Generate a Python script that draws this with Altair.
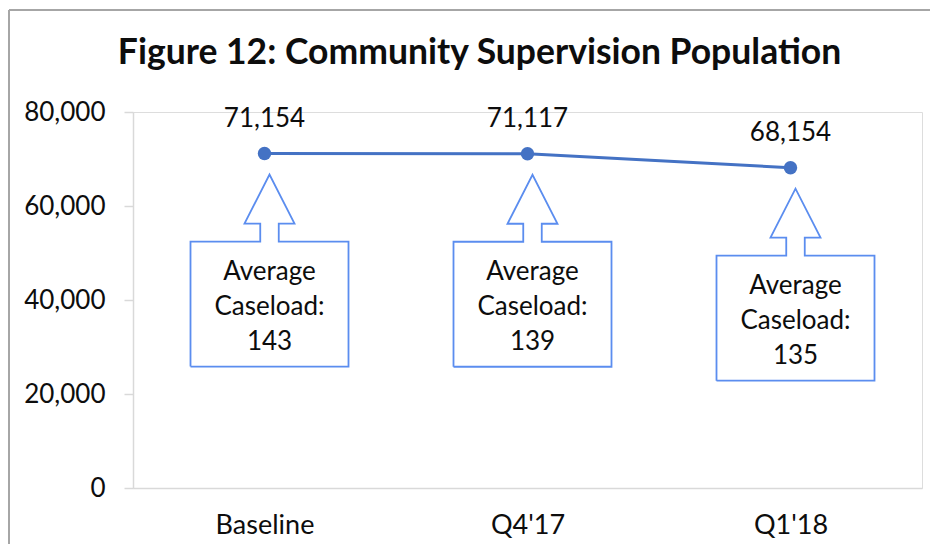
import json
import altair as alt
import pandas as pd

# ---------------- data ----------------
categories = ["Baseline", "Q4'17", "Q1'18"]
population = [71154, 71117, 68154]
caseload = [143, 139, 135]
y_ticks = [0, 20000, 40000, 60000, 80000]
TITLE = "Figure 12: Community Supervision Population"

# ---------------- layout / style ----------------
PLOT_W, PLOT_H = 789, 376
Y_MAX = 80000
PX_X = PLOT_W / len(categories)      # pixels per category step
U_Y = Y_MAX / PLOT_H                 # data units per pixel (y)

LINE_COLOR = "#4472C4"
CALLOUT_COLOR = "#5B8DEF"
AXIS_COLOR = "#D9D9D9"
TEXT_COLOR = "#0d0d0d"
FONT = "Lato"

# callout geometry in pixels (relative to its data point)
GAP, HEAD_H, SHAFT_H, BOX_H = 21, 49, 18, 125
BOX_W, HEAD_W, SHAFT_W, X_SHIFT = 158, 50, 18.5, 5
TEXT_DY, LINE_H = 38.3, 35

idx = list(range(len(categories)))
df = pd.DataFrame({"x": idx, "y": population, "cat": categories})

outline = [
    (-BOX_W / 2, HEAD_H + SHAFT_H + BOX_H),
    (-BOX_W / 2, HEAD_H + SHAFT_H),
    (-SHAFT_W / 2, HEAD_H + SHAFT_H),
    (-SHAFT_W / 2, HEAD_H),
    (-HEAD_W / 2, HEAD_H),
    (0, 0),
    (HEAD_W / 2, HEAD_H),
    (SHAFT_W / 2, HEAD_H),
    (SHAFT_W / 2, HEAD_H + SHAFT_H),
    (BOX_W / 2, HEAD_H + SHAFT_H),
    (BOX_W / 2, HEAD_H + SHAFT_H + BOX_H),
    (-BOX_W / 2, HEAD_H + SHAFT_H + BOX_H),
]
rows = []
for i, v in zip(idx, population):
    for k, (dx, dy) in enumerate(outline):
        rows.append({"c": i, "k": k,
                     "x": i + (X_SHIFT + dx) / PX_X,
                     "y": v - (GAP + dy) * U_Y})
callout_df = pd.DataFrame(rows)

text_df = pd.DataFrame({
    "x": [i + X_SHIFT / PX_X for i in idx],
    "y": [v - (GAP + HEAD_H + SHAFT_H) * U_Y for v in population],
    "t": [f"Average\nCaseload:\n{c}" for c in caseload],
})

label_expr = json.dumps(categories) + "[datum.value]"

x_scale = alt.Scale(domain=[-0.5, len(categories) - 0.5], nice=False, zero=False)
y_scale = alt.Scale(domain=[0, Y_MAX], nice=False)

x_axis = alt.Axis(values=idx, labelExpr=label_expr, ticks=False,
                  grid=False, domainColor=AXIS_COLOR, domainWidth=1.5,
                  labelPadding=24.5, labelFontSize=27, labelFont=FONT,
                  labelColor=TEXT_COLOR, labelFontWeight="normal")
y_axis = alt.Axis(values=y_ticks, format=",.0f", tickSize=9,
                  tickColor=AXIS_COLOR, domainColor=AXIS_COLOR,
                  domainWidth=1.5, tickWidth=1.5, grid=False,
                  labelPadding=19, labelFontSize=26, labelFont=FONT,
                  labelColor=TEXT_COLOR, labelFontWeight="normal")


def xe():
    return alt.X("x:Q", scale=x_scale, title=None, axis=x_axis)


def ye():
    return alt.Y("y:Q", scale=y_scale, title=None, axis=y_axis)


base = alt.Chart(df)

line = base.mark_line(color=LINE_COLOR, strokeWidth=3).encode(x=xe(), y=ye())
points = base.mark_circle(color=LINE_COLOR, size=180, opacity=1).encode(x=xe(), y=ye())
labels = base.mark_text(font=FONT, fontSize=26, color=TEXT_COLOR, dy=-26.5,
                        baseline="alphabetic").encode(
    x=xe(), y=ye(), text=alt.Text("y:Q", format=",.0f"))

callouts = alt.Chart(callout_df).mark_line(
    color=CALLOUT_COLOR, strokeWidth=1.8, strokeJoin="miter"
).encode(x=xe(), y=ye(), order="k:Q", detail="c:N")

callout_text = alt.Chart(text_df).mark_text(
    font=FONT, fontSize=26, color=TEXT_COLOR, lineBreak="\n", lineHeight=LINE_H,
    baseline="alphabetic", dy=TEXT_DY
).encode(x=xe(), y=ye(), text="t:N")

title = alt.Chart(pd.DataFrame({"t": [TITLE]})).mark_text(
    font=FONT, fontSize=35.5, fontWeight="bold", color=TEXT_COLOR,
    baseline="alphabetic", align="center"
).encode(x=alt.value(346.5), y=alt.value(-47.7), text="t:N")

border_left = alt.Chart(pd.DataFrame({"a": [0]})).mark_rule(
    color="#A6A6A6", strokeWidth=2
).encode(x=alt.value(-124), y=alt.value(-102), y2=alt.value(460))
border_top = alt.Chart(pd.DataFrame({"a": [0]})).mark_rule(
    color="#A6A6A6", strokeWidth=2
).encode(x=alt.value(-124), x2=alt.value(797), y=alt.value(-102))

chart = alt.layer(
    border_left, border_top, line, points, labels, callouts, callout_text, title
).properties(
    width=PLOT_W, height=PLOT_H,
    autosize=alt.AutoSizeParams(type="none"),
    padding={"left": 125, "top": 104, "right": 9, "bottom": 56},
    background="white",
).configure_view(stroke=None).configure(font=FONT)

chart.save("out.html", embed_options={"renderer": "svg", "actions": False})
